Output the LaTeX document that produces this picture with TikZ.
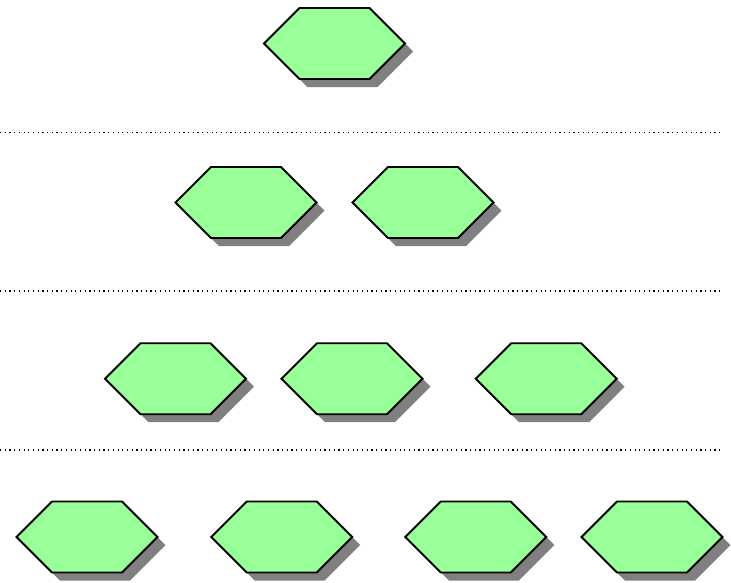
\documentclass[tikz,border=0pt]{standalone}
\begin{document}
\begin{tikzpicture}[x=1pt,y=-1pt,
  hexshadow/.style={fill=black!50},
  hexbody/.style={fill=hexgreen,draw=black,line width=1.9pt,line join=miter},
  sepline/.style={draw=black,line width=1.2pt,dash pattern=on 1.2pt off 3.5pt},
  hexa/.pic={
    \fill[hexshadow] (-62.5,8) -- (-27,-27.5) -- (43,-27.5) -- (78.5,8) -- (43,43.5) -- (-27,43.5) -- cycle;
    \path[hexbody] (-70.5,0) -- (-35,-35.5) -- (35,-35.5) -- (70.5,0) -- (35,35.5) -- (-35,35.5) -- cycle;
    \coordinate (-c) at (0,0);
  }]
\definecolor{hexgreen}{HTML}{99FF99}
\useasboundingbox (0,0) rectangle (731,582);
% separators
\coordinate (l1a) at (0,132.5); \coordinate (l1b) at (721,132.5);
\coordinate (l2a) at (0,291); \coordinate (l2b) at (721,291);
\coordinate (l3a) at (0,450); \coordinate (l3b) at (721,450);
\draw[sepline] (l1a) -- (l1b);
\draw[sepline] (l2a) -- (l2b);
\draw[sepline] (l3a) -- (l3b);
% row 1
\pic (h11) at (334.5,43.5) {hexa};
% row 2
\pic (h21) at (246,202.5) {hexa};
\pic (h22) at (423,202.5) {hexa};
% row 3
\pic (h31) at (175.5,378.7) {hexa};
\pic (h32) at (352,378.7) {hexa};
\pic (h33) at (546.2,378.7) {hexa};
% row 4
\pic (h41) at (87,537) {hexa};
\pic (h42) at (281.7,537) {hexa};
\pic (h43) at (475.8,537) {hexa};
\pic (h44) at (652,537) {hexa};
\end{tikzpicture}
\end{document}
